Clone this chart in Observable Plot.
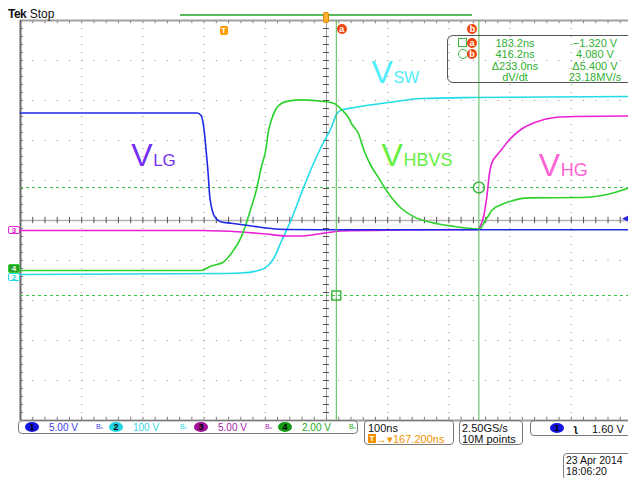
<!DOCTYPE html>
<html><head><meta charset="utf-8">
<script src="https://cdn.jsdelivr.net/npm/d3@7"></script>
<script src="https://cdn.jsdelivr.net/npm/@observablehq/plot@0.6"></script>
<style>
body{margin:0;background:#fff;font-family:"Liberation Sans",Arial,sans-serif;}
#wrap{position:relative;width:628px;height:478px;overflow:hidden;background:#fff;}
#wrap svg{position:absolute;left:0;top:0;}
.ov{position:absolute;white-space:nowrap;line-height:1;}
.box{position:absolute;border:1px solid #7a7a7a;border-radius:4px;box-sizing:border-box;}
.pill{position:absolute;width:14px;height:10px;border-radius:50%;font-size:9px;font-weight:bold;text-align:center;line-height:10px;}
.rc{position:absolute;width:10px;height:10px;border-radius:50%;background:#f0460f;color:#fff;font-size:9px;font-weight:bold;text-align:center;line-height:10px;}
</style></head><body><div id="wrap"></div>
<script>
// ---- scope settings ----
const timePerDiv = 100;            // ns / div
const horizontalDelay = 167.2;     // ns at screen centre
const channelNames = ["1", "2", "3", "4"];
const voltsPerDiv = [5, 100, 5, 2];
const positionDiv = [-0.25, -1.4, -0.25, -1.215];
const channelColors = ["#1c2ae6", "#22dcea", "#ea20d6", "#2cd22c"];
const scaleLabels = ["5.00 V", "100 V", "5.00 V", "2.00 V"];

// ---- waveforms: time (ns from trigger) and volts ----
const ch1T = [-333, -44.2, -37.6, -32.7, -29.5, -26.2, -23.7, -21.3, -18.0, -13.1, -4.9, 11.5, 32.7, 55.6, 76.9, 101.5, 160, 663];
const ch1V = [14.69, 14.69, 14.38, 12.5, 10.0, 7.13, 4.38, 3.13, 2.13, 1.5, 1.06, 0.91, 0.69, 0.44, 0.25, 0.13, 0.09, 0.09];

const ch2T = [-333, 3.3, 27.8, 55.6, 72.0, 81.8, 93.3, 109.7, 126.0, 142.4, 158.8, 175.1, 183.3, 191.5, 212.8, 268.4, 322.4, 404.3, 663];
const ch2V = [5, 7.5, 8.75, 15, 27.5, 47.5, 87.5, 142.5, 207.5, 270, 325, 372.5, 405, 416, 422.5, 435, 445, 447.5, 450];

const ch3T = [-333, -37.6, 27.8, 68.7, 101.5, 126.0, 158.8, 191.5, 289.7, 414.1, 419.0, 423.9, 428.8, 433.7, 437.0, 445.2, 453.4, 464.8, 486.1, 507.4, 540.1, 572.8, 663];
const ch3V = [0, 0, -0.19, -0.44, -0.69, -0.69, -0.38, -0.06, 0.06, 0.13, 0.63, 1.75, 4.0, 7.25, 8.38, 9.38, 10.13, 11.25, 12.69, 13.5, 14.13, 14.25, 14.31];

const ch4T = [-333, -37.6, -21.3, -1.6, 11.5, 27.8, 36.0, 44.2, 52.4, 60.6, 68.7, 72.0, 76.9, 85.1, 93.3, 104.7, 126.0, 163.7, 180.0, 191.5, 202.9, 207.9, 219.3, 229.1, 240.6, 252.0, 261.9, 273.3, 289.7, 311.0, 338.8, 376.4, 404.3, 417.3, 425.5, 432.1, 437.0, 453.4, 469.7, 497.5, 584.3, 617.0, 638.3, 663];
const ch4V = [-0.07, -0.07, 0.155, 0.345, 0.78, 1.6, 2.28, 3.08, 3.93, 5.08, 6.08, 6.83, 7.43, 8.03, 8.28, 8.4, 8.46, 8.38, 8.28, 7.98, 7.58, 7.28, 6.78, 5.88, 5.13, 4.58, 4.08, 3.58, 3.03, 2.6, 2.33, 2.13, 2.03, 2.0, 2.38, 2.68, 2.93, 3.23, 3.41, 3.56, 3.58, 3.68, 3.83, 4.08];

// ---- cursors / trigger ----
const cursorNames = ["a", "b"];
const cursorTimes = [183.2, 416.2];
const cursorVolts = [-1.32, 4.08];
const triggerLevel = 1.60;
const readTime = ["183.2ns", "416.2ns", "Δ233.0ns", "dV/dt"];
const readVolt = ["−1.320 V", "4.080 V", "Δ5.400 V", "23.18MV/s"];

// ---- trace annotations ----
const labelMain = ["V", "V", "V", "V"];
const labelSub = ["LG", "SW", "HBVS", "HG"];
const labelColors = ["#7330f2", "#4eeefa", "#66ee3e", "#fb62d2"];
const labelT = [-152, 240.6, 257, 514];
const labelBaseDiv = [1.375, 3.44, 1.375, 1.125];

const tLeft = horizontalDelay - 5 * timePerDiv;
const tRight = horizontalDelay + 5 * timePerDiv;
const toDiv = (v, ch) => v / voltsPerDiv[ch] + positionDiv[ch];
const series = (T, V, ch) => T.map((t, i) => ({t, d: toDiv(V[i], ch)}));

const majorT = d3.range(1, 10).filter(k => k !== 5).map(k => tLeft + k * timePerDiv);
const majorY = d3.range(-4, 5).filter(k => k !== 0);
const minorT = d3.range(0, 51).map(k => tLeft + k * timePerDiv / 5);
const minorY = d3.range(0, 51).map(k => -5 + k * 0.2);

const traceOrder = [[ch2T, ch2V, 1], [ch3T, ch3V, 2], [ch4T, ch4V, 3], [ch1T, ch1V, 0]];

const plot = Plot.plot({
  width: 628, height: 478,
  marginTop: 20, marginBottom: 58, marginLeft: 20, marginRight: -4,
  style: {background: "transparent", fontFamily: "Liberation Sans, Arial, sans-serif"},
  x: {domain: [tLeft, tRight], axis: null},
  y: {domain: [-5, 5], axis: null},
  marks: [
    Plot.ruleX(majorT, {stroke: "#8c8c8c", strokeWidth: 1, strokeDasharray: "1,7"}),
    Plot.ruleY(majorY, {stroke: "#8c8c8c", strokeWidth: 1, strokeDasharray: "1,11.24"}),
    Plot.ruleY([0], {stroke: "#b4b4b4", strokeWidth: 1.5}),
    Plot.ruleX([horizontalDelay], {stroke: "#9a9a9a", strokeWidth: 1}),
    Plot.ruleX(minorT, {y1: -0.08, y2: 0.08, stroke: "#555"}),
    Plot.ruleY(minorY, {x1: horizontalDelay - 5, x2: horizontalDelay + 5, stroke: "#555"}),
    Plot.ruleX(minorT, {y1: 5, y2: 4.92, stroke: "#777"}),
    Plot.ruleX(minorT, {y1: -5, y2: -4.92, stroke: "#777"}),
    Plot.ruleY(minorY, {x1: tLeft, x2: tLeft + 5, stroke: "#777"}),
    Plot.ruleY([5, -5], {stroke: "#a0a0a0", strokeWidth: 2}),
    Plot.ruleX([tLeft], {stroke: "#6a6a6a", strokeWidth: 2}),
    Plot.ruleY(cursorVolts.map(v => toDiv(v, 3)), {stroke: "#3fc43f", strokeWidth: 1, strokeDasharray: "3,3"}),
    ...traceOrder.map(([T, V, ch]) => Plot.line(series(T, V, ch), {x: "t", y: "d", stroke: channelColors[ch], strokeWidth: 1.6, curve: "monotone-x"})),
    Plot.ruleX(cursorTimes, {stroke: "#52b852", strokeWidth: 1}),
    Plot.dot([0], {x: () => cursorTimes[0], y: () => toDiv(cursorVolts[0], 3), symbol: "square", r: 5, stroke: "#3fb83f", fill: "none"}),
    Plot.dot([0], {x: () => cursorTimes[1], y: () => toDiv(cursorVolts[1], 3), symbol: "circle", r: 5.5, stroke: "#3fb83f", fill: "none"}),
    Plot.text(labelMain, {x: (d, i) => labelT[i], y: (d, i) => labelBaseDiv[i], text: d => d, fill: (d, i) => labelColors[i], fontSize: 32, textAnchor: "start", lineAnchor: "bottom"}),
    Plot.text(labelSub, {x: (d, i) => labelT[i], y: (d, i) => labelBaseDiv[i], text: d => d, fill: (d, i) => labelColors[i], fontSize: (d, i) => i === 1 ? 16 : (i === 0 ? 17 : 18), dx: 22, textAnchor: "start", lineAnchor: "bottom"}),
    Plot.text([triggerLevel], {x: () => tRight - 5, y: d => toDiv(d, 0), text: () => "◀", fill: channelColors[0], fontSize: 9, textAnchor: "end"})
  ]
});

const wrap = document.getElementById("wrap");
wrap.appendChild(plot);
const px = v => plot.scale("x").apply(v);
const py = v => plot.scale("y").apply(v);
function add(html) { wrap.insertAdjacentHTML("beforeend", html); }

// header
add(`<div class="ov" style="left:8px;top:8px;font-size:12px;color:#111"><b style="letter-spacing:-0.5px">Tek</b> Stop</div>`);
add(`<div class="ov" style="left:180px;top:14px;width:292px;height:1.5px;background:#5cb85c"></div>`);
add(`<div class="ov" style="left:${px(0) - 4}px;top:26px;width:8px;height:9px;background:#ff9a00;border-radius:2px;color:#fff;font-size:8px;font-weight:bold;text-align:center;line-height:9px">T</div>`);
add(`<div class="ov" style="left:${px(horizontalDelay) - 3}px;top:12px;width:6px;height:11px;background:#ffb030;border-radius:2px;border:1px solid #e08a00;box-sizing:border-box"></div>`);
cursorNames.forEach((n, i) => add(`<div class="rc" style="left:${px(cursorTimes[i]) + [1,-11][i]}px;top:24px">${n}</div>`));

// readout
add(`<div class="box" style="left:447px;top:35px;width:200px;height:48px;border-color:#555;border-radius:6px"></div>`);
add(`<div class="ov" style="left:458px;top:38px;width:9px;height:9px;border:1px solid #3fb83f;box-sizing:border-box"></div>`);
add(`<div class="ov" style="left:458px;top:49px;width:10px;height:10px;border:1px solid #3fb83f;border-radius:50%;box-sizing:border-box"></div>`);
cursorNames.forEach((n, i) => add(`<div class="rc" style="left:467px;top:${38 + i * 11}px">${n}</div>`));
readTime.forEach((s, i) => add(`<div class="ov" style="left:470px;width:90px;text-align:center;top:${38 + i * 11.3}px;font-size:11px;color:#2fb02f">${s}</div>`));
readVolt.forEach((s, i) => add(`<div class="ov" style="left:550px;width:90px;text-align:center;top:${38 + i * 11.3}px;font-size:11px;color:#2fb02f">${s}</div>`));

// channel ground markers
[2, 1, 3].forEach(ch => {
  const y = py(positionDiv[ch]);
  const filled = ch === 3;
  const top = ch === 1 ? y - 3.5 : y - 4.5;
  add(`<div class="ov" style="left:8px;top:${top}px;width:12px;height:8.5px;box-sizing:border-box;border:1px solid ${channelColors[ch]};border-radius:2px;background:${filled ? "#29a329" : "#fff"};color:${filled ? "#e8ffe8" : channelColors[ch]};font-size:8px;font-weight:bold;text-align:center;line-height:7px">${channelNames[ch]}</div>`);
});

// bottom bar
const pillBg = ["#1414e0", "#22d2e2", "#a0109a", "#149a14"];
const textCol = ["#3a40ee", "#38d8ea", "#a81aa8", "#22a822"];
const pillX = [25, 109, 194, 278];
add(`<div class="box" style="left:18px;top:420px;width:340px;height:14px"></div>`);
channelNames.forEach((n, i) => {
  add(`<div class="pill" style="left:${pillX[i]}px;top:422px;background:${pillBg[i]};color:#000">${n}</div>`);
  add(`<div class="ov" style="left:${pillX[i] + 24}px;top:423px;font-size:10px;color:${textCol[i]}">${scaleLabels[i]}</div>`);
  add(`<div class="ov" style="left:${pillX[i] + 71}px;top:423px;font-size:7px;color:${textCol[i]}">Bᵥ</div>`);
});
add(`<div class="box" style="left:364px;top:420px;width:90px;height:25px"></div>`);
add(`<div class="ov" style="left:368px;top:423px;font-size:11px;color:#111">100ns</div>`);
add(`<div class="ov" style="left:368px;top:434px;font-size:11px;color:#f39200"><span style="display:inline-block;width:8px;height:9px;background:#f39200;color:#fff;font-size:8px;text-align:center;line-height:9px;font-weight:bold;vertical-align:top">T</span>→▾167.200ns</div>`);
add(`<div class="box" style="left:459px;top:420px;width:64px;height:25px"></div>`);
add(`<div class="ov" style="left:462px;top:423px;font-size:11px;color:#111">2.50GS/s</div>`);
add(`<div class="ov" style="left:462px;top:434px;font-size:11px;color:#111">10M points</div>`);
add(`<div class="box" style="left:530px;top:420px;width:110px;height:16px"></div>`);
add(`<div class="pill" style="left:550px;top:423px;background:${pillBg[0]};color:#000">1</div>`);
add(`<div class="ov" style="left:574px;top:423px;font-size:11px;color:#111;font-weight:bold">ʅ</div>`);
add(`<div class="ov" style="left:592px;top:424px;font-size:11px;color:#111">${triggerLevel.toFixed(2)} V</div>`);
add(`<div class="box" style="left:563px;top:453px;width:80px;height:27px"></div>`);
add(`<div class="ov" style="left:566px;top:455px;font-size:10.5px;color:#111">23 Apr 2014</div>`);
add(`<div class="ov" style="left:566px;top:466px;font-size:10.5px;color:#111">18:06:20</div>`);
</script></body></html>
